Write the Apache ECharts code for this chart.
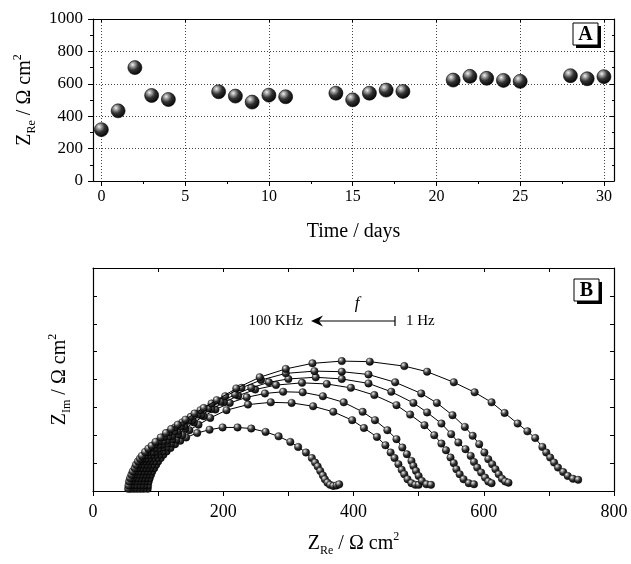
<!DOCTYPE html>
<html><head><meta charset="utf-8">
<script src="https://cdn.jsdelivr.net/npm/echarts@6/dist/echarts.min.js"></script>
<style>html,body{margin:0;padding:0;background:#fff}#c{width:631px;height:564px}</style>
</head><body><div id="c"></div>
<script>
// ---- Panel A data ----
const days = [0,1,2,3,4,7,8,9,10,11,14,15,16,17,18,21,22,23,24,25,28,29,30];
const zRe  = [317,433,700,528,503,551,524,487,530,520,542,501,542,561,553,623,646,634,621,615,650,631,644];
const xTicksA = [0,5,10,15,20,25,30];
const xMinorA = [2.5,7.5,12.5,17.5,22.5,27.5];

// ---- Panel B data: Nyquist arcs [Zre, Zim] ----
const nyq1 = [[84,4],[84.5,10],[85.5,17],[87,23],[89,29],[91,35],[94,41],[97,47],[100,53],[104,59],[108,65],[113,71],[119,77],[126,84],[134,90],[143,96],[160,104],[179,110],[199,114],[222,114],[243,112],[265,106],[285,98],[303,88],[315,79],[327,69],[336,59],[341,51],[345,44],[349,36],[353,28],[356,21],[360,15],[364,11],[369,9],[374,10],[378,12]];
const nyq2 = [[78,4],[78.5,10],[79.5,17],[81,23],[83,29],[85,35],[88,41],[91,47],[94,53],[98,59],[102,65],[107,71],[113,78],[120,85],[128,92],[137,100],[148,109],[162,119],[180,131],[205,145],[238,155],[273,159],[305,158],[338,152],[369,142],[398,127],[416,113],[436,97],[449,82],[457,69],[463,59],[469,48],[474,38],[478,30],[483,21],[489,14],[495,11],[500,11]];
const nyq3 = [[73,4],[73.5,10],[74.5,17],[76,23],[78,29],[80,35],[83,41],[85,47],[88,53],[92,59],[96,65],[101,71],[107,78],[114,85],[122,93],[131,102],[142,112],[155,123],[170,134],[188,146],[210,158],[236,168],[264,175],[292,178],[322,177],[353,170],[385,159],[414,142],[433,127],[452,109],[466,93],[475,78],[482,66],[489,54],[492,45],[496,36],[500,27],[505,18],[512,12],[519,11]];
const nyq4 = [[68,4],[68.5,10],[69.5,17],[71,23],[73,29],[75,35],[78,41],[80,47],[83,53],[86,58],[90,64],[95,70],[100,76],[106,83],[113,90],[121,98],[130,107],[140,116],[152,126],[166,136],[182,147],[201,159],[223,171],[249,182],[281,190],[321,194],[359,192],[396,185],[432,172],[466,154],[487,137],[509,118],[524,100],[535,85],[542,73],[549,60],[554,50],[558,39],[563,30],[569,21],[577,14],[585,12]];
const nyq5 = [[63,4],[63.5,10],[64.5,17],[66,23],[68,29],[70,35],[73,41],[75,47],[78,53],[81,58],[85,64],[90,70],[95,77],[101,83],[108,90],[116,98],[125,107],[135,116],[147,126],[161,137],[177,148],[196,160],[218,173],[243,185],[270,195],[300,201],[342,204],[382,201],[423,193],[458,178],[492,158],[513,141],[535,121],[550,102],[561,87],[572,75],[580,63],[585,52],[590,42],[596,33],[602,24],[607,17],[612,14]];
const nyq6 = [[58,4],[58.5,10],[59.5,17],[61,23],[63,29],[65,35],[68,41],[70,47],[73,53],[76,58],[80,64],[84,70],[89,77],[95,83],[101,89],[109,97],[117,105],[126,114],[137,123],[150,133],[165,145],[182,157],[203,170],[228,185],[258,199],[296,211],[340,215],[382,214],[423,209],[464,195],[504,175],[528,158],[552,136],[571,115],[583,99],[593,84],[601,69],[607,57],[613,48],[618,39],[623,30],[628,22],[633,17],[638,15]];
const nyq7 = [[54,4],[54.5,10],[55.5,17],[57,23],[59,29],[61,35],[64,41],[66,47],[69,53],[72,58],[75,63],[80,70],[85,76],[90,81],[96,88],[104,96],[112,104],[120,111],[130,119],[142,128],[156,139],[170,149],[190,163],[220,184],[256,204],[296,219],[337,229],[382,233],[425,232],[478,224],[513,214],[554,195],[586,177],[612,159],[632,140],[652,121],[667,107],[679,95],[690,79],[696,69],[702,60],[708,51],[714,42],[722,34],[729,27],[737,22],[745,20]];
const arcs = [nyq1,nyq2,nyq3,nyq4,nyq5,nyq6,nyq7];

const SERIF = '"Liberation Serif","DejaVu Serif",serif';
const chart = echarts.init(document.getElementById('c'), null, {renderer:'canvas'});

function sphere(){
  return new echarts.graphic.RadialGradient(0.35,0.3,0.75,[
    {offset:0,color:'#f2f2f2'},{offset:0.18,color:'#a8a8a8'},
    {offset:0.5,color:'#333'},{offset:1,color:'#000'}]);
}
const black = {color:'#000', width:1.2};
const richTitle = {
  a:{fontFamily:SERIF,fontSize:20,color:'#000',lineHeight:26},
  b:{fontFamily:SERIF,fontSize:12,color:'#000',lineHeight:14,verticalAlign:'bottom'},
  c:{fontFamily:SERIF,fontSize:12,color:'#000',lineHeight:14,verticalAlign:'top'}
};
const dotted = {show:true,lineStyle:{color:'#444',type:[1,2],width:1}};

const option = {
  animation:false,
  backgroundColor:'#fff',
  grid:[
    {left:93,top:19,width:521,height:162},
    {left:93,top:268,width:521,height:223}
  ],
  xAxis:[
    {gridIndex:0,type:'value',min:-0.5,max:30.6,position:'bottom',
     axisLine:{show:true,onZero:false,lineStyle:black},
     axisTick:{show:true,length:5,customValues:xTicksA,lineStyle:{color:'#000'}},
     axisLabel:{customValues:xTicksA,fontFamily:SERIF,fontSize:16,color:'#000',margin:8,
       formatter:v=>String(v)},
     splitLine:dotted,
     name:'Time / days',nameLocation:'middle',nameGap:38,
     nameTextStyle:{fontFamily:SERIF,fontSize:20,color:'#000',lineHeight:26}},
    {gridIndex:0,type:'value',min:-0.5,max:30.6,position:'bottom',
     axisLine:{show:false},axisTick:{show:true,length:3,customValues:xMinorA,lineStyle:{color:'#000'}},
     axisLabel:{show:false},splitLine:{show:false}},
    {gridIndex:0,type:'value',min:-0.5,max:30.6,position:'top',
     axisLine:{show:true,onZero:false,lineStyle:black},
     axisTick:{show:true,inside:true,length:3,customValues:xTicksA,lineStyle:{color:'#000'}},
     axisLabel:{show:false},splitLine:{show:false}},
    {gridIndex:1,type:'value',min:0,max:800,interval:100,position:'bottom',
     axisLine:{show:true,onZero:false,lineStyle:black},
     axisTick:{show:true,length:5,lineStyle:{color:'#000'}},
     axisLabel:{fontFamily:SERIF,fontSize:18,color:'#000',margin:12,
       formatter:v=>(v%200===0?String(v):'')},
     splitLine:{show:false},
     name:'{a|Z}{b|Re}{a| / Ω cm}{c|2}',nameLocation:'middle',nameGap:40,
     nameTextStyle:{rich:richTitle}},
    {gridIndex:1,type:'value',min:0,max:800,interval:100,position:'top',
     axisLine:{show:true,onZero:false,lineStyle:black},
     axisTick:{show:true,inside:true,length:4,lineStyle:{color:'#000'}},
     axisLabel:{show:false},splitLine:{show:false}}
  ],
  yAxis:[
    {gridIndex:0,type:'value',min:0,max:1000,interval:200,position:'left',
     axisLine:{show:true,onZero:false,lineStyle:black},
     axisTick:{show:true,length:5,lineStyle:{color:'#000'}},
     minorTick:{show:true,splitNumber:2,length:3,lineStyle:{color:'#000'}},
     axisLabel:{fontFamily:SERIF,fontSize:17,color:'#000',margin:10,formatter:v=>String(v)},
     splitLine:dotted,
     name:'{a|Z}{b|Re}{a| / Ω cm}{c|2}',nameLocation:'middle',nameGap:53,nameRotate:90,
     nameTextStyle:{rich:richTitle}},
    {gridIndex:0,type:'value',min:0,max:1000,interval:200,position:'right',
     axisLine:{show:true,onZero:false,lineStyle:black},
     axisTick:{show:true,inside:true,length:4,lineStyle:{color:'#000'}},
     minorTick:{show:true,splitNumber:2,length:2,lineStyle:{color:'#000'}},
     axisLabel:{show:false},splitLine:{show:false}},
    {gridIndex:1,type:'value',min:0,max:400,interval:50,position:'left',
     axisLine:{show:true,onZero:false,lineStyle:black},
     axisTick:{show:true,inside:true,length:4,lineStyle:{color:'#000'}},
     axisLabel:{show:false},splitLine:{show:false},
     name:'{a|Z}{b|Im}{a| / Ω cm}{c|2}',nameLocation:'middle',nameGap:20,nameRotate:90,
     nameTextStyle:{rich:richTitle}},
    {gridIndex:1,type:'value',min:0,max:400,interval:50,position:'right',
     axisLine:{show:true,onZero:false,lineStyle:black},
     axisTick:{show:true,inside:true,length:4,lineStyle:{color:'#000'}},
     axisLabel:{show:false},splitLine:{show:false}}
  ],
  series:[
    {type:'scatter',xAxisIndex:0,yAxisIndex:0,symbol:'circle',symbolSize:14,
     data:days.map((d,i)=>[d,zRe[i]]),
     itemStyle:{color:sphere(),borderColor:'#000',borderWidth:0.6,opacity:1},z:5}
  ].concat(arcs.map((arc,k)=>({
     type:'line',xAxisIndex:3,yAxisIndex:2,data:arc,symbol:'circle',symbolSize:7.5,
     showSymbol:true,showAllSymbol:true,
     lineStyle:{color:'#000',width:1},
     itemStyle:{color:sphere(),borderColor:'#000',borderWidth:0.4},z:3+k
  }))),
  graphic:[
    // A label box
    {type:'rect',shape:{x:576,y:26,width:25,height:22},style:{fill:'#000'},z:10},
    {type:'rect',shape:{x:573,y:23,width:25,height:22},style:{fill:'#fff',stroke:'#000',lineWidth:1},z:11},
    {type:'text',x:585.5,y:34.5,style:{text:'A',fontFamily:SERIF,fontSize:20,fontWeight:'bold',fill:'#000',align:'center',verticalAlign:'middle'},z:12},
    // B label box
    {type:'rect',shape:{x:577,y:282,width:25,height:22},style:{fill:'#000'},z:10},
    {type:'rect',shape:{x:574,y:279,width:25,height:22},style:{fill:'#fff',stroke:'#000',lineWidth:1},z:11},
    {type:'text',x:586.5,y:290.5,style:{text:'B',fontFamily:SERIF,fontSize:20,fontWeight:'bold',fill:'#000',align:'center',verticalAlign:'middle'},z:12},
    // frequency annotation
    {type:'text',x:357,y:304,style:{text:'f',fontFamily:SERIF,fontSize:17,fontStyle:'italic',fill:'#000',align:'center',verticalAlign:'middle'},z:12},
    {type:'text',x:303,y:321,style:{text:'100 KHz',fontFamily:SERIF,fontSize:15,fill:'#000',align:'right',verticalAlign:'middle'},z:12},
    {type:'text',x:406,y:321,style:{text:'1 Hz',fontFamily:SERIF,fontSize:15,fill:'#000',align:'left',verticalAlign:'middle'},z:12},
    {type:'line',shape:{x1:316,y1:321,x2:395,y2:321},style:{stroke:'#000',lineWidth:1.2},z:12},
    {type:'line',shape:{x1:395,y1:316,x2:395,y2:326},style:{stroke:'#000',lineWidth:1.2},z:12},
    {type:'polygon',shape:{points:[[311,321],[323,315.5],[319,321],[323,326.5]]},style:{fill:'#000'},z:12}
  ]
};
chart.setOption(option);
</script>
</body></html>
